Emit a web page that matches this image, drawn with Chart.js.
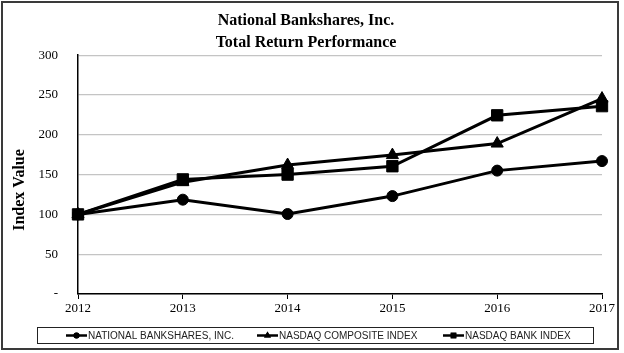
<!DOCTYPE html>
<html>
<head>
<meta charset="utf-8">
<script src="https://cdn.jsdelivr.net/npm/chart.js@4.4.0/dist/chart.umd.min.js"></script>
<style>
html,body{margin:0;padding:0;background:#fff;}
#wrap{width:624px;height:353px;}
</style>
</head>
<body>
<div id="wrap"><canvas id="c" width="624" height="353"></canvas></div>
<script>
const years = ['2012', '2013', '2014', '2015', '2016', '2017'];
const nationalBankshares = [100, 118.5, 100.5, 123, 155, 167];
const nasdaqComposite = [100, 140.5, 162, 174.5, 189, 245.5];
const nasdaqBank = [100, 144, 150, 160.5, 224.5, 236];
const seriesNames = ['NATIONAL BANKSHARES, INC.', 'NASDAQ COMPOSITE INDEX', 'NASDAQ BANK INDEX'];
const titleLines = ['National Bankshares, Inc.', 'Total Return Performance'];
const yAxisTitle = 'Index Value';

const serif = '"Liberation Serif", "Times New Roman", serif';
const sans = '"Liberation Sans", Arial, sans-serif';

const frame = {
  id: 'frame',
  beforeDraw(chart) {
    const ctx = chart.ctx;
    ctx.save();
    ctx.fillStyle = '#fff';
    ctx.fillRect(0, 0, chart.width, chart.height);
    ctx.restore();
  },
  afterDraw(chart) {
    const ctx = chart.ctx;
    ctx.save();
    ctx.strokeStyle = '#3a3a3a';
    ctx.lineWidth = 2;
    ctx.strokeRect(2, 2, 616, 347);
    // y axis title
    ctx.save();
    ctx.translate(20, 190);
    ctx.rotate(-Math.PI / 2);
    ctx.font = 'bold 16px ' + serif;
    ctx.fillStyle = '#000';
    ctx.textAlign = 'center';
    ctx.textBaseline = 'middle';
    ctx.fillText(yAxisTitle, 0, 0);
    ctx.restore();
    // legend box
    ctx.strokeStyle = '#222';
    ctx.lineWidth = 1;
    ctx.strokeRect(37.5, 327.5, 556, 16);
    const styles = ['circle', 'triangle', 'rect'];
    const markerStarts = [66, 257, 443];
    const cy = 335.5;
    ctx.font = '10px ' + sans;
    ctx.textBaseline = 'middle';
    chart.data.datasets.forEach((ds, i) => {
      const x0 = markerStarts[i];
      const w = 21;
      ctx.strokeStyle = '#000';
      ctx.lineWidth = 2.5;
      ctx.beginPath();
      ctx.moveTo(x0, cy);
      ctx.lineTo(x0 + w, cy);
      ctx.stroke();
      ctx.fillStyle = '#000';
      Chart.helpers.drawPoint(ctx, {pointStyle: styles[i], radius: styles[i] === 'circle' ? 3 : 4, borderWidth: 0}, x0 + w / 2, cy);
      ctx.fill();
      ctx.fillStyle = '#222';
      ctx.fillText(ds.label, x0 + w + 1, cy + 0.5);
    });
    ctx.restore();
  }
};

new Chart(document.getElementById('c'), {
  type: 'line',
  data: {
    labels: years,
    datasets: [
      {label: seriesNames[0], data: nationalBankshares, borderColor: '#000', backgroundColor: '#000', borderWidth: 3, pointStyle: 'circle', pointRadius: 5.5, pointBorderWidth: 1, pointBackgroundColor: '#000', pointBorderColor: '#000'},
      {label: seriesNames[1], data: nasdaqComposite, borderColor: '#000', backgroundColor: '#000', borderWidth: 3, pointStyle: 'triangle', pointRadius: 7, pointBorderWidth: 1, pointBackgroundColor: '#000', pointBorderColor: '#000'},
      {label: seriesNames[2], data: nasdaqBank, borderColor: '#000', backgroundColor: '#000', borderWidth: 3, pointStyle: 'rect', pointRadius: 8, pointBorderWidth: 1, pointBackgroundColor: '#000', pointBorderColor: '#000'}
    ]
  },
  options: {
    responsive: false,
    animation: false,
    layout: {padding: {left: 10, right: 22, top: 0, bottom: 33}},
    plugins: {
      legend: {display: false},
      tooltip: {enabled: false},
      title: {
        display: true,
        text: titleLines,
        color: '#000',
        font: {family: serif, size: 16, weight: 'bold', lineHeight: 1.35},
        padding: {top: 10, bottom: 2}
      }
    },
    scales: {
      x: {
        type: 'category',
        offset: false,
        grid: {display: true, drawOnChartArea: false, drawTicks: true, tickLength: 5, color: '#000', lineWidth: 1},
        border: {display: true, color: '#000', width: 1.5},
        ticks: {color: '#000', font: {family: serif, size: 13}, padding: 2, maxRotation: 0, autoSkip: false},
        afterFit(s) { s.height = 26; }
      },
      y: {
        min: 0,
        max: 300,
        ticks: {
          stepSize: 50,
          color: '#000',
          font: {family: serif, size: 13},
          padding: 20,
          callback: v => (v === 0 ? '-' : String(v))
        },
        grid: {color: '#c4c4c4', lineWidth: 1.2, drawTicks: false},
        border: {display: true, color: '#000', width: 1.5},
        title: {display: false},
        afterFit(s) { s.width = 68; }
      }
    }
  },
  plugins: [frame]
});
</script>
</body>
</html>
